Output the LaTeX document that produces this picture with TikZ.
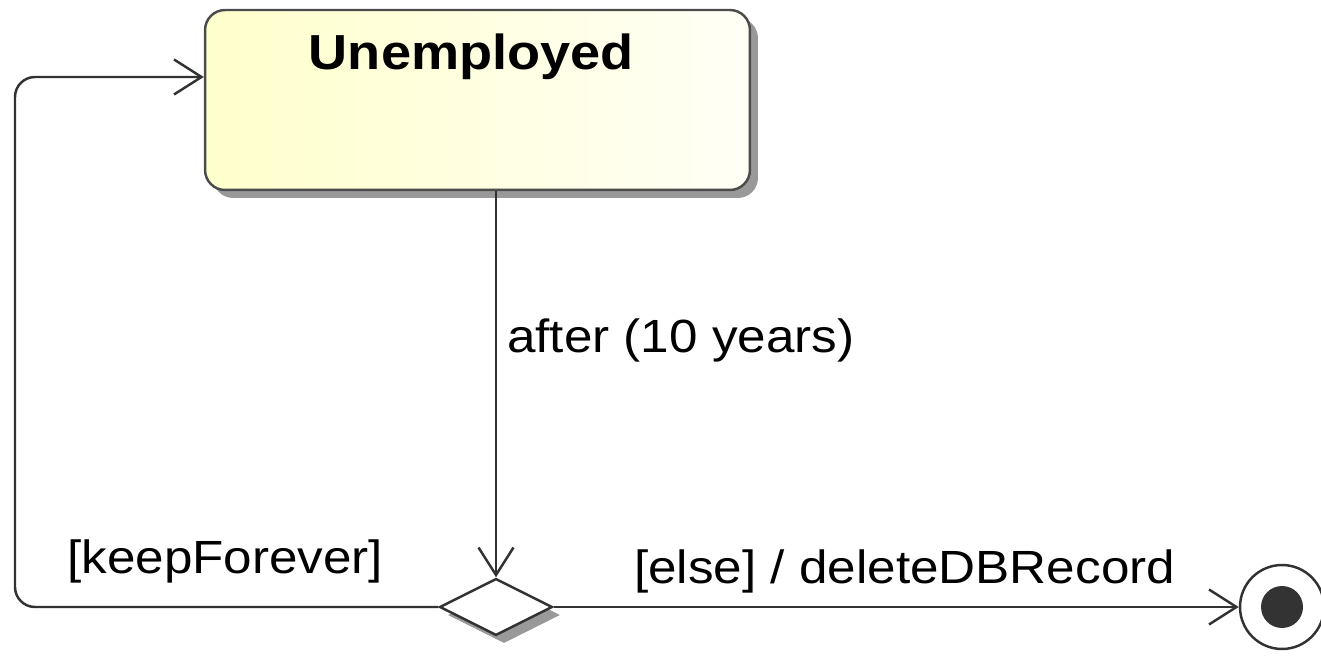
\documentclass[tikz,border=0pt]{standalone}
\usepackage{fontspec}
\setmainfont[FakeStretch=1.1]{Liberation Sans}
\usetikzlibrary{shapes.geometric,arrows.meta,shadows,positioning}

\definecolor{stateleft}{RGB}{255,255,204}
\definecolor{stateright}{RGB}{255,255,246}
\definecolor{linegray}{RGB}{50,50,50}

\def\px{0.02cm}

\begin{document}
\begin{tikzpicture}[x=\px,y=-\px,line width=1.4pt,>={Straight Barb[length=0.55cm,width=0.7cm]}]
    \tikzstyle{every node}=[font=\fontsize{26.5}{30}\selectfont]
    \tikzstyle{shade}=[drop shadow={shadow xshift=0.16cm,shadow yshift=-0.16cm,fill=black!50,opacity=0.8}]
    \tikzstyle{state}=[rectangle,rounded corners=0.4cm,draw=black!70,left color=stateleft,right color=stateright,
        minimum width=10.9cm,inner ysep=0pt,text height=1.2cm,text depth=2.4cm,
        font=\fontsize{28}{32}\selectfont\bfseries,shade]
    \tikzstyle{choice}=[diamond,draw=linegray,fill=white,minimum width=2.26cm,minimum height=1.14cm,inner sep=0pt,shade]
    \tikzstyle{final}=[circle,draw=linegray,fill=white,minimum size=1.68cm,inner sep=0pt]
    \tikzstyle{final dot}=[circle,fill=black!80,minimum size=0.84cm,inner sep=0pt]
    \tikzstyle{trans}=[->,draw=linegray]
    \tikzstyle{annot}=[anchor=base west,inner sep=0pt]

    \useasboundingbox (0,0) rectangle (1321,661);

    % Draw the states
    \node[state] (U) at (477.5,100) {\hspace*{-0.25cm}Unemployed};
    \node[choice] (C) at (496,607) {};
    \node[final] (F) at (1282,607) {};
    \node[final dot] (F-dot) at (F) {};

    % Corner of the loop back
    \coordinate (L) at (15,77);

    % Connect the states
    \draw[trans] (C.north |- U.south) -- (C.north);
    \draw[trans,rounded corners=0.4cm] (C.west) -| (L) -- (L -| U.west);
    \draw[trans] (C.east) -- (F.west);

    % Annotate the transitions
    \node[annot] (after) at (506,353) {after (10 years)};
    \node[annot] (keep) at (66,573) {[keepForever]};
    \node[annot] (else) at (633,583) {[else] / deleteDBRecord};
\end{tikzpicture}
\end{document}
